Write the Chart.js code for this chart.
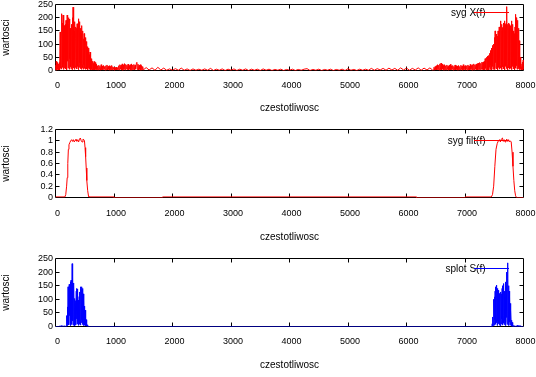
<!DOCTYPE html>
<html><head><meta charset="utf-8">
<script src="https://cdn.jsdelivr.net/npm/chart.js@4/dist/chart.umd.min.js"></script>
<style>
html,body{margin:0;padding:0;background:#fff;}
#wrap{position:relative;width:536px;height:377px;overflow:hidden;background:#fff;}
canvas{position:absolute;left:0;}
</style></head><body>
<div id="wrap">
<canvas id="c1" style="top:0px" width="536" height="125"></canvas>
<canvas id="c2" style="top:125px" width="536" height="127"></canvas>
<canvas id="c3" style="top:252px" width="536" height="125"></canvas>
</div>
<script>
// ---------- DATA ----------
const xAxisTitle = 'czestotliwosc';
const yAxisTitle = 'wartosci';
const labelX = 'syg X(f)';
const labelFilt = 'syg filt(f)';
const labelS = 'splot S(f)';

// X(f): sampled spectrum segments [start Hz, spacing Hz, values]
const xSeg1Start = 0, xSeg1Step = 5;
const xSeg1 = [
 20,2, 35,5, 15,1, 30,4, 10,3, 25,2, 15,6, 30,3, 146,8, 120,20,
 205,5, 215,30, 180,12, 210,4, 150,25, 170,9, 140,40, 175,6, 190,18, 160,3,
 210,35, 185,10, 200,22, 178,5, 195,45, 160,14, 150,7, 130,28, 175,3, 200,16,
 240,9, 190,33, 150,4, 185,20, 165,11, 120,38, 160,6, 177,15, 150,25, 196,3,
 170,12, 185,30, 145,7, 160,19, 140,4, 170,26, 130,10, 150,5, 120,22, 140,8,
 100,15, 125,4, 95,18, 110,6, 90,12, 80,3, 77,10, 85,5, 60,8, 70,2,
 52,6, 40,3, 45,8, 30,2, 35,5, 27,3, 34,6, 25,2, 30,4, 21,3, 24
];
const xSeg2Start = 710, xSeg2Step = 10;
const xSeg2 = [
 3,18,2,20,4,16,1,22,3,17,
 2,19,5,15,1,18,3,21,2,16,
 4,18,1,15,3,19,2,14,4,12,
 1,11,3,13,2,10,4,18,2,22,
 5,20,3,25,1,21,4,26,2,23,
 6,20,3,24,2,19,5,22,1,25,
 3,21,4,23,2,20,5,26,31,3,
 24,2,20,4,22,1,18,3,15,2
];
const xSeg3Start = 1550, xSeg3Step = 50;
const xSeg3 = [
 11,2,10,1,12,2,9,1,6,1,
 7,1,9,1,6,0,6,1,5,1,
 6,1,8,0,5,1,6,0,5,1,
 6,0,5,1,6,0,5,1,5,0,
 6,1,5,0,4,1,5,0,4,1,
 5,0,4,1,5,7,0,4,1,5,
 0,4,1,5,0,4,1,5,0,7,
 1,4,0,5,1,5,1,8,1,7,
 2,8,1,9,2,8,1,10,2,9,
 1,8,2,10,1,9,2,10,1
];
const xSeg4Start = 6460, xSeg4Step = 10;
const xSeg4 = [
 2,12,1,15,3,18,2,22,4,20,
 1,25,3,28,2,24,5,19,1,22,
 3,18,2,21,4,16,1,20,3,23,
 2,17,5,19,1,15,3,21,2,18,
 4,16,1,19,3,15,2,20,4,17,
 1,22,3,16,2,19,5,18,1,21,
 3,17,2,23,4,19,1,22,3,25,
 2,21,5,24,3,26,2,28,4,30,
 3,27,5,32,4
];
const xSeg5Start = 7305, xSeg5Step = 5;
const xSeg5 = [
 30,4, 33,2, 28,6, 35,3, 45,8, 40,2, 50,5, 47,10, 55,3, 52,7,
 57,2, 50,12, 65,4, 76,20, 70,6, 85,3, 80,15, 95,5, 90,25, 100,8,
 125,4, 150,30, 110,10, 125,6, 138,18, 130,3, 150,40, 140,12, 165,5, 155,22,
 188,9, 170,35, 175,4, 150,14, 163,28, 180,6, 170,11, 188,3, 160,45, 175,16,
 180,7, 242,25, 175,2, 170,33, 180,10, 160,5, 175,20, 165,8, 170,38, 188,4,
 157,15, 175,26, 144,6, 150,12, 140,3, 165,30, 213,9, 200,18, 163,5, 190,22,
 140,7, 160,14, 113,3, 90,10, 51,4, 35,6, 14,2, 25,5, 32,3, 40,4
];

// filt(f): band-pass response
const filtFreq = [0,160,175,190,200,210,220,230,245,260,275,290,305,320,335,350,365,380,395,410,425,440,455,470,485,495,505,515,525,535,550,565,570,
 1000,1000,1830,1830,6170,6170,7000,7000,
 7450,7470,7490,7510,7530,7550,7570,7590,7605,7620,7640,7655,7670,7685,7700,7715,7730,7745,7760,7775,7790,7805,7820,7835,7850,7865,7880,8000];
const filtVal = [0.01,0.01,0.05,0.2,0.35,0.6,0.85,0.93,0.97,1.0,1.02,0.99,1.02,0.98,1.01,1.03,0.99,1.02,0.98,1.03,1.05,1.0,0.98,1.03,1.02,1.0,0.88,0.72,0.52,0.3,0.12,0.02,0.01,
 0.01,0,0,0.01,0.01,0,0,0.01,
 0.01,0.05,0.2,0.55,0.85,0.95,1.0,1.02,0.98,1.03,1.05,0.99,1.02,0.98,1.01,1.03,0.99,1.02,0.98,1.0,0.98,0.8,0.55,0.3,0.12,0.03,0,0];

// S(f): product spectrum segments
const sSeg1Start = 0, sSeg1Step = 10;
const sSeg1 = [0,0,0,0,0,0,0,0,2,0,3,0,1,0,2,0,3,0,0];
const sSeg2Start = 185, sSeg2Step = 5;
const sSeg2 = [
 5,0, 40,3, 72,10, 146,25, 130,6, 155,40, 150,12, 164,4, 170,30, 165,8,
 231,20, 182,5, 160,35, 152,10, 103,3, 85,15, 95,6, 130,28, 140,9, 138,18,
 97,4, 85,22, 110,8, 127,30, 146,5, 140,14, 146,25, 135,7, 140,18, 120,3,
 97,10, 75,5, 60,2, 35,4, 25,1, 11,2, 6,0, 2,0
];
const sSeg3Start = 600, sSeg3Step = 6860;
const sSeg3 = [0,0];
const sSeg4Start = 7465, sSeg4Step = 5;
const sSeg4 = [
 10,0, 35,3, 80,12, 100,5, 109,25, 130,8, 146,35, 152,14, 148,4, 140,20,
 133,10, 128,30, 121,6, 85,2, 110,18, 127,9, 120,28, 140,5, 150,40, 158,12,
 145,7, 130,22, 109,3, 164,15, 150,33, 200,8, 234,20, 175,11, 150,4, 130,16,
 109,6, 85,10, 60,2, 23,1, 15,3, 11,0, 3,0
];
const sSeg5Start = 7840, sSeg5Step = 10;
const sSeg5 = [0,3,0,2,0,4,0,3,0,2,0,3,0,0,0,0,0];

// ---------- CHART ----------
const FONT = "'Liberation Sans', Arial, sans-serif";
Chart.defaults.font.family = FONT;
Chart.defaults.color = '#000';

function segPoints(segs){
  const pts = [];
  segs.forEach(([start, step, vals]) => vals.forEach((v, i) => pts.push({x: start + i*step, y: v})));
  return pts;
}
function pairPoints(xs, ys){ return xs.map((x, i) => ({x, y: ys[i]})); }

const framePlugin = {
  id: 'frame',
  beforeDatasetsDraw(chart){
    const {ctx, chartArea: a} = chart;
    const xs = chart.scales.x, ys = chart.scales.y;
    const T = 4;
    ctx.save();
    ctx.strokeStyle = '#000'; ctx.lineWidth = 1;
    ctx.beginPath();
    ctx.rect(a.left, a.top, a.right - a.left, a.bottom - a.top);
    xs.ticks.forEach(t => {
      const p = Math.floor(xs.getPixelForValue(t.value)) + 0.5;
      if (p <= a.left + 1 || p >= a.right - 1) return;
      ctx.moveTo(p, a.bottom); ctx.lineTo(p, a.bottom - T);
      ctx.moveTo(p, a.top); ctx.lineTo(p, a.top + T);
    });
    ys.ticks.forEach(t => {
      const p = Math.floor(ys.getPixelForValue(t.value)) + 0.5;
      if (p <= a.top + 1 || p >= a.bottom - 1) return;
      ctx.moveTo(a.left, p); ctx.lineTo(a.left + T, p);
      ctx.moveTo(a.right, p); ctx.lineTo(a.right - T, p);
    });
    ctx.stroke();
    ctx.restore();
  }
};
const keyPlugin = {
  id: 'key',
  afterDatasetsDraw(chart, args, o){
    const ds = chart.data.datasets[0];
    const ctx = chart.ctx;
    ctx.save();
    ctx.font = '10px ' + FONT; ctx.fillStyle = '#000';
    ctx.textAlign = 'right'; ctx.textBaseline = 'middle';
    ctx.fillText(ds.label, o.textRight, o.y + 1);
    ctx.strokeStyle = ds.borderColor; ctx.lineWidth = 1;
    ctx.beginPath(); ctx.moveTo(o.x1, o.y); ctx.lineTo(o.x2, o.y); ctx.stroke();
    ctx.restore();
  }
};

function makePanel(id, p){
  const TICK_FS = 9, TITLE_FS = 10;
  const left = 55.5, right = 523.5;
  const localBottom = p.areaBottom - p.canvasTop;
  return new Chart(document.getElementById(id), {
    type: 'line',
    data: { datasets: [{
      label: p.label, data: p.data, borderColor: p.color, backgroundColor: p.color,
      borderWidth: 1, pointRadius: 0, fill: false, tension: 0
    }]},
    options: {
      responsive: false, animation: false, devicePixelRatio: 1,
      parsing: false, normalized: true,
      layout: { padding: { top: p.areaTop - p.canvasTop, right: 536 - right, bottom: 0, left: 0 } },
      plugins: { legend: { display: false }, tooltip: { enabled: false },
        key: { textRight: 485.5, x1: 474, x2: 509, y: p.keyY - p.canvasTop } },
      scales: {
        x: {
          type: 'linear', min: 0, max: 8000,
          grid: { display: false, drawTicks: false }, border: { display: false },
          ticks: { stepSize: 1000, autoSkip: false, maxRotation: 0, labelOffset: 2,
            font: { size: TICK_FS }, color: '#000',
            padding: p.tickCY - p.areaBottom - TICK_FS * 1.2 / 2,
            callback: v => String(v) },
          title: { display: true, text: xAxisTitle, color: '#000', font: { size: TITLE_FS },
            padding: { top: 0, bottom: p.canvasH - (p.titleCY - p.canvasTop) - TITLE_FS * 1.2 / 2 } },
          afterFit(s){ s.height = p.canvasH - localBottom; s.paddingLeft = 0; s.paddingRight = 0; }
        },
        y: {
          min: p.yMin, max: p.yMax,
          grid: { display: false, drawTicks: false }, border: { display: false },
          ticks: { stepSize: p.yStep, autoSkip: false, font: { size: TICK_FS }, color: '#000', padding: 2.5,
            callback: v => String(Math.round(v * 10) / 10) },
          title: { display: true, text: yAxisTitle, color: '#000', font: { size: TITLE_FS },
            padding: { top: 0.5, bottom: 0 } },
          afterFit(s){ s.width = left; s.paddingTop = 0; s.paddingBottom = 0; }
        }
      }
    },
    plugins: [framePlugin, keyPlugin]
  });
}

makePanel('c1', {
  canvasTop: 0, canvasH: 125, areaTop: 4.5, areaBottom: 70.5, tickCY: 86, titleCY: 108, keyY: 12.5,
  label: labelX, color: '#ff0000', yMin: 0, yMax: 250, yStep: 50,
  data: segPoints([[xSeg1Start, xSeg1Step, xSeg1],[xSeg2Start, xSeg2Step, xSeg2],[xSeg3Start, xSeg3Step, xSeg3],[xSeg4Start, xSeg4Step, xSeg4],[xSeg5Start, xSeg5Step, xSeg5]])
});
makePanel('c2', {
  canvasTop: 125, canvasH: 127, areaTop: 129.5, areaBottom: 197.5, tickCY: 214, titleCY: 237.5, keyY: 140.5,
  label: labelFilt, color: '#ff0000', yMin: 0, yMax: 1.2, yStep: 0.2,
  data: pairPoints(filtFreq, filtVal)
});
makePanel('c3', {
  canvasTop: 252, canvasH: 125, areaTop: 258.5, areaBottom: 326.5, tickCY: 342, titleCY: 365, keyY: 268.5,
  label: labelS, color: '#0000ff', yMin: 0, yMax: 250, yStep: 50,
  data: segPoints([[sSeg1Start, sSeg1Step, sSeg1],[sSeg2Start, sSeg2Step, sSeg2],[sSeg3Start, sSeg3Step, sSeg3],[sSeg4Start, sSeg4Step, sSeg4],[sSeg5Start, sSeg5Step, sSeg5]])
});
</script>
</body></html>
